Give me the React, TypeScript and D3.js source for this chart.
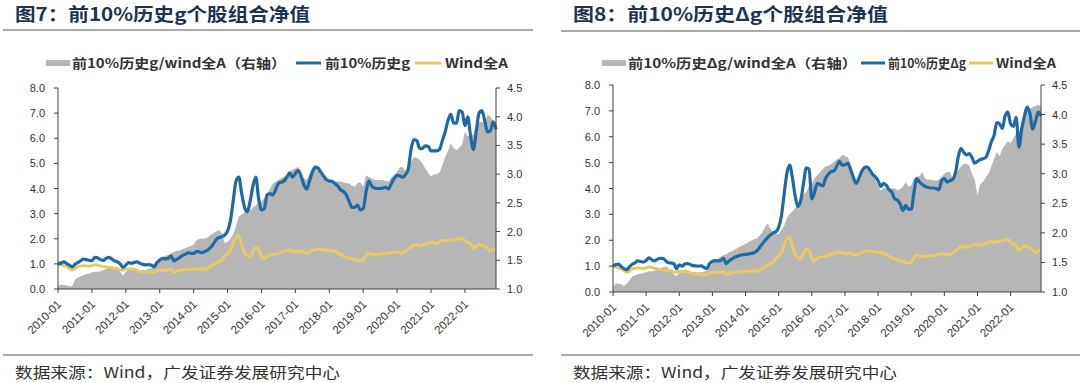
import React from 'react';
import * as d3 from 'd3';

// ---------- data ----------
const months: string[] = Array.from({ length: 156 }, (_, i) =>
  `${2010 + Math.floor(i / 12)}-${String((i % 12) + 1).padStart(2, '0')}`
);
const xTickLabels = ['2010-01','2011-01','2012-01','2013-01','2014-01','2015-01','2016-01','2017-01','2018-01','2019-01','2020-01','2021-01','2022-01'];
const leftTicks = [0, 1, 2, 3, 4, 5, 6, 7, 8];
const rightTicks = [1.0, 1.5, 2.0, 2.5, 3.0, 3.5, 4.0, 4.5];

// Wind全A net value
const windA = [
1.0,0.97,0.93,0.9,0.82,0.76,0.82,0.89,0.92,0.93,0.92,0.91,
0.93,0.97,0.95,0.92,0.89,0.88,0.86,0.84,0.83,0.82,0.77,0.76,
0.8,0.79,0.8,0.8,0.74,0.7,0.69,0.7,0.68,0.67,0.66,0.72,
0.76,0.76,0.74,0.75,0.8,0.66,0.7,0.75,0.76,0.77,0.78,0.79,
0.8,0.8,0.8,0.79,0.8,0.84,0.9,0.97,1.03,1.1,1.15,1.3,
1.4,1.52,1.8,2.05,2.12,1.75,1.45,1.33,1.28,1.5,1.65,1.6,
1.28,1.2,1.3,1.35,1.37,1.38,1.42,1.46,1.5,1.53,1.55,1.52,
1.48,1.5,1.5,1.46,1.42,1.48,1.53,1.56,1.59,1.58,1.56,1.55,
1.53,1.52,1.5,1.44,1.38,1.32,1.27,1.24,1.2,1.17,1.13,1.11,
1.15,1.33,1.42,1.38,1.37,1.38,1.4,1.4,1.41,1.42,1.45,1.48,
1.46,1.43,1.46,1.5,1.58,1.68,1.77,1.75,1.72,1.76,1.8,1.82,
1.85,1.83,1.82,1.88,1.93,1.93,1.92,1.94,1.96,1.98,2.0,2.04,
1.92,1.85,1.8,1.6,1.7,1.78,1.75,1.7,1.62,1.52,1.58,1.64
];

// 图7: 前10%历史g
const topG = [
1.0,1.03,1.08,1.02,0.95,0.88,0.98,1.05,1.12,1.19,1.17,1.14,
1.12,1.26,1.24,1.17,1.14,1.22,1.26,1.2,1.12,1.08,1.0,0.86,
0.95,1.05,1.02,1.06,1.08,1.02,0.98,0.96,0.97,0.95,0.89,1.05,
1.15,1.22,1.2,1.22,1.32,1.12,1.18,1.25,1.33,1.38,1.44,1.42,
1.42,1.5,1.48,1.45,1.5,1.55,1.65,1.8,1.97,2.05,2.08,2.15,
2.3,2.7,3.5,4.3,4.45,3.8,3.25,3.07,3.5,4.1,4.45,3.6,
3.15,3.2,3.75,3.8,3.75,3.95,4.2,4.25,4.3,4.45,4.62,4.45,
4.6,4.72,4.5,4.15,3.97,4.3,4.65,4.85,4.82,4.65,4.5,4.35,
4.3,4.28,4.2,4.1,3.95,3.88,3.75,3.5,3.25,3.25,3.34,3.15,
3.2,3.85,4.3,4.1,4.02,4.0,4.0,4.02,4.05,3.98,4.2,4.4,
4.52,4.5,4.45,4.55,4.8,5.6,5.95,5.9,5.6,5.6,5.7,5.68,
5.5,5.5,5.5,5.55,5.9,6.25,6.7,6.95,6.6,6.6,7.1,7.05,
6.5,6.85,6.1,5.55,6.25,7.0,7.1,6.7,6.25,6.3,6.65,6.35
];
// 图7: 前10%历史g / wind全A (右轴)
const topGRatio = [
1.04,1.08,1.07,1.06,1.05,1.05,1.16,1.2,1.22,1.24,1.26,1.27,
1.29,1.3,1.3,1.31,1.33,1.35,1.37,1.39,1.38,1.35,1.3,1.23,
1.3,1.33,1.33,1.33,1.33,1.33,1.33,1.33,1.35,1.36,1.38,1.45,
1.5,1.55,1.58,1.59,1.62,1.65,1.66,1.67,1.69,1.71,1.73,1.75,
1.77,1.85,1.87,1.88,1.88,1.9,1.94,1.97,2.0,2.03,1.96,1.8,
1.82,1.88,1.95,2.1,2.26,2.3,2.33,2.35,2.37,2.42,2.46,2.5,
2.52,2.58,2.64,2.74,2.83,2.87,2.9,2.93,2.96,3.0,3.04,3.08,
3.1,3.13,3.0,2.93,2.9,3.0,3.1,3.13,3.1,3.0,2.95,2.9,
2.88,2.87,2.87,2.87,2.87,2.86,2.84,2.84,2.8,2.78,2.84,2.86,
2.78,2.98,2.95,2.93,2.9,2.9,2.9,2.9,2.88,2.87,2.95,2.98,
3.05,3.12,3.12,3.05,3.1,3.22,3.3,3.28,3.25,3.18,3.1,3.02,
2.96,3.0,3.0,3.03,3.15,3.3,3.4,3.54,3.45,3.42,3.46,3.52,
3.74,3.66,3.7,3.68,3.88,3.9,3.91,3.88,4.03,4.0,3.93,3.9
];

// 图8: 前10%历史Δg
const topDG = [
1.0,1.06,1.08,0.98,0.9,0.86,0.98,1.07,1.13,1.2,1.18,1.16,
1.22,1.32,1.25,1.2,1.26,1.3,1.3,1.22,1.13,1.12,1.1,0.9,
1.05,1.0,1.08,1.1,1.06,1.02,1.01,1.0,1.01,0.95,0.91,1.1,
1.18,1.21,1.2,1.22,1.3,1.1,1.2,1.27,1.34,1.38,1.42,1.44,
1.45,1.47,1.49,1.52,1.58,1.7,1.85,1.98,2.1,2.2,2.28,2.33,
2.5,2.95,3.8,4.6,4.9,4.4,3.7,3.3,3.55,4.2,4.8,4.75,
3.6,3.85,4.2,4.15,4.1,4.4,4.55,4.65,4.68,4.85,5.05,4.9,
4.92,4.97,4.75,4.45,4.2,4.38,4.65,4.8,4.84,4.72,4.55,4.45,
4.3,4.08,4.2,4.12,3.95,3.85,3.6,3.55,3.4,3.15,3.35,3.2,
3.2,3.85,4.38,4.25,4.15,4.08,4.05,4.02,4.02,4.0,3.95,4.3,
4.38,4.25,4.3,4.35,4.6,5.2,5.55,5.4,5.3,5.35,5.2,4.98,
5.05,5.12,5.15,5.2,5.45,5.8,6.05,6.55,6.5,6.32,6.8,6.95,
6.5,6.4,6.75,5.6,6.3,6.8,7.15,6.9,6.3,6.6,6.95,6.8
];
// 图8: 前10%历史Δg / wind全A (右轴)
const topDGRatio = [
1.07,1.15,1.14,1.13,1.1,1.14,1.2,1.26,1.28,1.3,1.31,1.32,
1.34,1.35,1.35,1.36,1.38,1.4,1.42,1.43,1.41,1.36,1.3,1.27,
1.32,1.32,1.33,1.34,1.34,1.34,1.34,1.33,1.34,1.34,1.36,1.42,
1.48,1.52,1.56,1.6,1.62,1.64,1.67,1.69,1.72,1.74,1.77,1.79,
1.81,1.84,1.87,1.89,1.9,1.95,2.0,2.1,2.16,2.08,2.0,1.98,
1.98,2.05,2.12,2.25,2.32,2.36,2.42,2.5,2.58,2.65,2.69,2.8,
2.84,2.92,2.98,3.03,3.08,3.12,3.14,3.16,3.2,3.24,3.26,3.32,
3.3,3.28,3.18,3.0,2.86,2.95,3.05,3.1,3.12,3.06,2.98,2.9,
2.8,2.72,2.76,2.75,2.74,2.75,2.76,2.72,2.74,2.78,2.86,2.78,
2.8,2.92,2.95,2.96,3.03,2.92,2.9,2.9,2.89,2.88,2.9,2.95,
3.0,3.03,3.03,2.92,3.0,3.05,3.12,3.17,3.17,3.14,3.0,2.9,
2.64,2.82,2.86,2.94,3.0,3.12,3.25,3.37,3.3,3.42,3.48,3.55,
3.52,3.6,3.68,3.7,3.82,3.98,4.05,4.1,4.13,4.15,4.16,4.14
];

// ---------- styles ----------
const BLUE = '#1f6aa5';
const YELLOW = '#e8c862';
const GRAY = '#b6b6b6';
const AXIS = '#404040';
const TXT = '#333333';
const TITLE = '#1f3350';
const SANS = '"Liberation Sans", Arial, "Noto Sans CJK SC", sans-serif';
const CJK = '"Noto Sans CJK SC", "Liberation Sans", sans-serif';

type ChartProps = {
  x0: number; x1: number; yTop: number; yBot: number;
  line: number[]; ratio: number[];
  title: string; titleX: number; titleW: number;
  rule: [number, number]; ruleY: number;
  legend: { x: number; w: number; label: string; tx: number; tw: number; kind: 'area' | 'blue' | 'yellow' }[];
  footerX: number; footerW: number; footRule: [number, number];
};

function Chart(p: ChartProps) {
  const x = d3.scaleLinear().domain([0, months.length - 1]).range([p.x0, p.x1]);
  const yL = d3.scaleLinear().domain([0, 8]).range([p.yBot, p.yTop]);
  const yR = d3.scaleLinear().domain([1, 4.5]).range([p.yBot, p.yTop]);
  const area = d3.area<number>().x((_, i) => x(i)).y0(p.yBot).y1((d) => yR(d));
  const lineL = d3.line<number>().x((_, i) => x(i)).y((d) => yL(d)).curve(d3.curveMonotoneX);
  const legendY = 63;
  return (
    <g>
      <text x={p.titleX} y={21} fontFamily={CJK} fontWeight={700} fontSize={18} fill={TITLE}
        textLength={p.titleW} lengthAdjust="spacingAndGlyphs">{p.title}</text>
      <line x1={p.rule[0]} x2={p.rule[1]} y1={p.ruleY} y2={p.ruleY} stroke="#8c8c8c" strokeWidth={1.5} />

      {p.legend.map((l, k) => (
        <g key={k}>
          {l.kind === 'area' ? (
            <rect x={l.x} y={legendY - 3} width={l.w} height={6} fill={GRAY} />
          ) : (
            <line x1={l.x} x2={l.x + l.w} y1={legendY} y2={legendY}
              stroke={l.kind === 'blue' ? BLUE : YELLOW} strokeWidth={3} />
          )}
          <text x={l.tx} y={legendY + 4.5} fontFamily={CJK} fontWeight={700} fontSize={13} fill={TXT}
            textLength={l.tw} lengthAdjust="spacingAndGlyphs">{l.label}</text>
        </g>
      ))}

      <path d={area(p.ratio) || ''} fill={GRAY} />
      <path d={lineL(windA) || ''} fill="none" stroke={YELLOW} strokeWidth={3} strokeLinejoin="round" />
      <path d={lineL(p.line) || ''} fill="none" stroke={BLUE} strokeWidth={3.2} strokeLinejoin="round" />

      {/* left axis */}
      <line x1={p.x0} x2={p.x0} y1={p.yTop} y2={p.yBot} stroke={AXIS} strokeWidth={1} />
      {leftTicks.map((t) => (
        <g key={'l' + t}>
          <line x1={p.x0 - 4} x2={p.x0} y1={yL(t)} y2={yL(t)} stroke={AXIS} />
          <text x={p.x0 - 13} y={yL(t) + 4} textAnchor="end" fontFamily={SANS} fontSize={11} fill={TXT}>
            {d3.format('.1f')(t)}
          </text>
        </g>
      ))}
      {/* right axis */}
      <line x1={p.x1} x2={p.x1} y1={p.yTop} y2={p.yBot} stroke={AXIS} strokeWidth={1} />
      {rightTicks.map((t) => (
        <g key={'r' + t}>
          <line x1={p.x1} x2={p.x1 + 4} y1={yR(t)} y2={yR(t)} stroke={AXIS} />
          <text x={p.x1 + 11} y={yR(t) + 4} textAnchor="start" fontFamily={SANS} fontSize={11} fill={TXT}>
            {d3.format('.1f')(t)}
          </text>
        </g>
      ))}
      {/* bottom axis */}
      <line x1={p.x0} x2={p.x1} y1={p.yBot} y2={p.yBot} stroke={AXIS} strokeWidth={1} />
      {xTickLabels.map((lab) => {
        const xi = x(months.indexOf(lab));
        return (
          <g key={lab}>
            <line x1={xi} x2={xi} y1={p.yBot} y2={p.yBot + 4} stroke={AXIS} />
            <text transform={`translate(${xi + 4},${p.yBot + 16}) rotate(-45)`} textAnchor="end"
              fontFamily={SANS} fontSize={11.5} fill={TXT}>{lab}</text>
          </g>
        );
      })}

      <line x1={p.footRule[0]} x2={p.footRule[1]} y1={355} y2={355} stroke="#8c8c8c" strokeWidth={1.5} />
      <text x={p.footerX} y={378} fontFamily={CJK} fontSize={15} fill={TXT}
        textLength={p.footerW} lengthAdjust="spacingAndGlyphs">数据来源：Wind，广发证券发展研究中心</text>
    </g>
  );
}

export default function App() {
  return (
    <div style={{ position: 'fixed', left: 0, top: 0 }}>
      <svg width={1080} height={383} style={{ display: 'block', background: '#fff' }}>
        <Chart
          x0={58} x1={496} yTop={88} yBot={289}
          line={topG} ratio={topGRatio}
          title="图7：前10%历史g个股组合净值" titleX={15} titleW={295}
          rule={[3, 533]} ruleY={30}
          legend={[
            { x: 46, w: 24, label: '前10%历史g/wind全A（右轴）', tx: 72, tw: 214, kind: 'area' },
            { x: 296, w: 25, label: '前10%历史g', tx: 325, tw: 85, kind: 'blue' },
            { x: 415, w: 26, label: 'Wind全A', tx: 445, tw: 63, kind: 'yellow' },
          ]}
          footerX={15} footerW={325} footRule={[3, 533]}
        />
        <Chart
          x0={613} x1={1041} yTop={85} yBot={292}
          line={topDG} ratio={topDGRatio}
          title="图8：前10%历史Δg个股组合净值" titleX={573} titleW={315}
          rule={[561, 1080]} ruleY={31}
          legend={[
            { x: 602, w: 24, label: '前10%历史Δg/wind全A（右轴）', tx: 628, tw: 229, kind: 'area' },
            { x: 861, w: 24, label: '前10%历史Δg', tx: 888, tw: 78, kind: 'blue' },
            { x: 969, w: 24, label: 'Wind全A', tx: 996, tw: 60, kind: 'yellow' },
          ]}
          footerX={573} footerW={324} footRule={[561, 1080]}
        />
      </svg>
    </div>
  );
}
